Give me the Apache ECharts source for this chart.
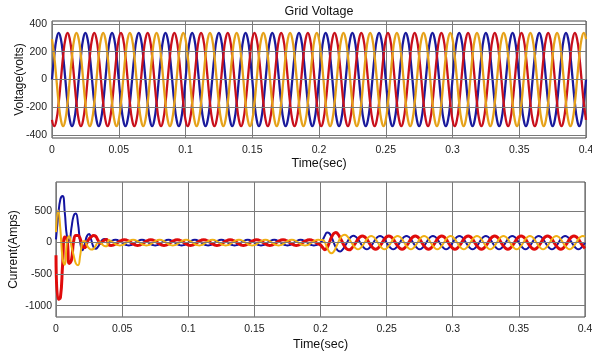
<!DOCTYPE html>
<html><head><meta charset="utf-8">
<script src="https://cdn.jsdelivr.net/npm/echarts@6/dist/echarts.min.js"></script>
<style>html,body{margin:0;padding:0;background:#fff;}#c{width:592px;height:353px;}</style>
</head><body><div id="c"></div>
<script>
// sample interval of all series (s)
const timeStep = 1 / 600;
const xTicks = [0, 0.05, 0.1, 0.15, 0.2, 0.25, 0.3, 0.35, 0.4];
const voltTicks = [-400, -200, 0, 200, 400];
const currTicks = [-1000, -500, 0, 500];

const voltA = [
0,168,290,335,290,168,0,-168,-290,-335,-290,-168,
0,168,290,335,290,168,0,-168,-290,-335,-290,-168,
0,168,290,335,290,168,0,-168,-290,-335,-290,-168,
0,168,290,335,290,168,0,-168,-290,-335,-290,-168,
0,168,290,335,290,168,0,-168,-290,-335,-290,-168,
0,168,290,335,290,168,0,-168,-290,-335,-290,-168,
0,168,290,335,290,168,0,-168,-290,-335,-290,-168,
0,168,290,335,290,168,0,-168,-290,-335,-290,-168,
0,168,290,335,290,168,0,-168,-290,-335,-290,-168,
0,168,290,335,290,168,0,-168,-290,-335,-290,-168,
0,168,290,335,290,168,0,-168,-290,-335,-290,-168,
0,168,290,335,290,168,0,-168,-290,-335,-290,-168,
0,168,290,335,290,168,0,-168,-290,-335,-290,-168,
0,168,290,335,290,168,0,-168,-290,-335,-290,-168,
0,168,290,335,290,168,0,-168,-290,-335,-290,-168,
0,168,290,335,290,168,0,-168,-290,-335,-290,-168,
0,168,290,335,290,168,0,-168,-290,-335,-290,-168,
0,168,290,335,290,168,0,-168,-290,-335,-290,-168,
0,168,290,335,290,168,0,-168,-290,-335,-290,-168,
0,168,290,335,290,168,0,-168,-290,-335,-290,-168,
0];
const voltB = [
-290,-335,-290,-168,0,168,290,335,290,168,0,-168,
-290,-335,-290,-168,0,168,290,335,290,168,0,-168,
-290,-335,-290,-168,0,168,290,335,290,168,0,-168,
-290,-335,-290,-168,0,168,290,335,290,168,0,-168,
-290,-335,-290,-168,0,168,290,335,290,168,0,-168,
-290,-335,-290,-168,0,168,290,335,290,168,0,-168,
-290,-335,-290,-168,0,168,290,335,290,168,0,-168,
-290,-335,-290,-168,0,168,290,335,290,168,0,-168,
-290,-335,-290,-168,0,168,290,335,290,168,0,-168,
-290,-335,-290,-168,0,168,290,335,290,168,0,-168,
-290,-335,-290,-168,0,168,290,335,290,168,0,-168,
-290,-335,-290,-168,0,168,290,335,290,168,0,-168,
-290,-335,-290,-168,0,168,290,335,290,168,0,-168,
-290,-335,-290,-168,0,168,290,335,290,168,0,-168,
-290,-335,-290,-168,0,168,290,335,290,168,0,-168,
-290,-335,-290,-168,0,168,290,335,290,168,0,-168,
-290,-335,-290,-168,0,168,290,335,290,168,0,-168,
-290,-335,-290,-168,0,168,290,335,290,168,0,-168,
-290,-335,-290,-168,0,168,290,335,290,168,0,-168,
-290,-335,-290,-168,0,168,290,335,290,168,0,-168,
-290];
const voltC = [
290,168,0,-168,-290,-335,-290,-168,0,168,290,335,
290,168,0,-168,-290,-335,-290,-168,0,168,290,335,
290,168,0,-168,-290,-335,-290,-168,0,168,290,335,
290,168,0,-168,-290,-335,-290,-168,0,168,290,335,
290,168,0,-168,-290,-335,-290,-168,0,168,290,335,
290,168,0,-168,-290,-335,-290,-168,0,168,290,335,
290,168,0,-168,-290,-335,-290,-168,0,168,290,335,
290,168,0,-168,-290,-335,-290,-168,0,168,290,335,
290,168,0,-168,-290,-335,-290,-168,0,168,290,335,
290,168,0,-168,-290,-335,-290,-168,0,168,290,335,
290,168,0,-168,-290,-335,-290,-168,0,168,290,335,
290,168,0,-168,-290,-335,-290,-168,0,168,290,335,
290,168,0,-168,-290,-335,-290,-168,0,168,290,335,
290,168,0,-168,-290,-335,-290,-168,0,168,290,335,
290,168,0,-168,-290,-335,-290,-168,0,168,290,335,
290,168,0,-168,-290,-335,-290,-168,0,168,290,335,
290,168,0,-168,-290,-335,-290,-168,0,168,290,335,
290,168,0,-168,-290,-335,-290,-168,0,168,290,335,
290,168,0,-168,-290,-335,-290,-168,0,168,290,335,
290,168,0,-168,-290,-335,-290,-168,0,168,290,335,
290];

const currA = [
50,420,690,740,470,90,30,230,420,460,300,0,
-120,-30,100,135,40,-70,-100,-70,-10,40,58,50,
0,23,39,45,39,23,0,-23,-39,-45,-39,-23,
0,23,39,45,39,23,0,-23,-39,-45,-39,-23,
0,23,39,45,39,23,0,-23,-39,-45,-39,-23,
0,23,39,45,39,23,0,-23,-39,-45,-39,-23,
0,23,39,45,39,23,0,-23,-39,-45,-39,-23,
0,23,39,45,39,23,0,-23,-39,-45,-39,-23,
0,23,39,45,39,23,0,-23,-39,-45,-39,-23,
0,23,39,45,39,23,0,-23,-39,-45,-39,-23,
0,40,113,160,147,85,0,-80,-130,-140,-113,-63,
0,58,95,108,91,53,0,-53,-91,-105,-91,-53,
0,53,91,105,91,53,0,-53,-91,-105,-91,-53,
0,53,91,105,91,53,0,-53,-91,-105,-91,-53,
0,53,91,105,91,53,0,-53,-91,-105,-91,-53,
0,53,91,105,91,53,0,-53,-91,-105,-91,-53,
0,53,91,105,91,53,0,-53,-91,-105,-91,-53,
0,53,91,105,91,53,0,-53,-91,-105,-91,-53,
0,53,91,105,91,53,0,-53,-91,-105,-91,-53,
0,53,91,105,91,53,0,-53,-91,-105,-91,-53,
0];
const currB = [
-200,-900,-870,-350,90,50,-330,-280,20,110,110,60,
-60,-80,-10,60,90,110,100,40,-10,10,40,50,
-39,-45,-39,-23,0,23,39,45,39,23,0,-23,
-39,-45,-39,-23,0,23,39,45,39,23,0,-23,
-39,-45,-39,-23,0,23,39,45,39,23,0,-23,
-39,-45,-39,-23,0,23,39,45,39,23,0,-23,
-39,-45,-39,-23,0,23,39,45,39,23,0,-23,
-39,-45,-39,-23,0,23,39,45,39,23,0,-23,
-39,-45,-39,-23,0,23,39,45,39,23,0,-23,
-39,-45,-39,-23,0,23,39,45,39,23,0,-23,
-39,-80,-113,-80,0,85,143,160,130,70,0,-63,
-104,-115,-95,-54,0,53,91,105,91,53,0,-53,
-91,-105,-91,-53,0,53,91,105,91,53,0,-53,
-91,-105,-91,-53,0,53,91,105,91,53,0,-53,
-91,-105,-91,-53,0,53,91,105,91,53,0,-53,
-91,-105,-91,-53,0,53,91,105,91,53,0,-53,
-91,-105,-91,-53,0,53,91,105,91,53,0,-53,
-91,-105,-91,-53,0,53,91,105,91,53,0,-53,
-91,-105,-91,-53,0,53,91,105,91,53,0,-53,
-91,-105,-91,-53,0,53,91,105,91,53,0,-53,
-91];
const currC = [
165,510,200,-250,-350,20,100,-60,-200,-330,-360,-200,
10,25,-40,-90,-110,-100,-50,0,5,-30,-55,-60,
39,23,0,-23,-39,-45,-39,-23,0,23,39,45,
39,23,0,-23,-39,-45,-39,-23,0,23,39,45,
39,23,0,-23,-39,-45,-39,-23,0,23,39,45,
39,23,0,-23,-39,-45,-39,-23,0,23,39,45,
39,23,0,-23,-39,-45,-39,-23,0,23,39,45,
39,23,0,-23,-39,-45,-39,-23,0,23,39,45,
39,23,0,-23,-39,-45,-39,-23,0,23,39,45,
39,23,0,-23,-39,-45,-39,-23,0,23,39,45,
39,40,0,-80,-147,-170,-143,-80,0,70,113,125,
104,58,0,-54,-91,-105,-91,-53,0,53,91,105,
91,53,0,-53,-91,-105,-91,-53,0,53,91,105,
91,53,0,-53,-91,-105,-91,-53,0,53,91,105,
91,53,0,-53,-91,-105,-91,-53,0,53,91,105,
91,53,0,-53,-91,-105,-91,-53,0,53,91,105,
91,53,0,-53,-91,-105,-91,-53,0,53,91,105,
91,53,0,-53,-91,-105,-91,-53,0,53,91,105,
91,53,0,-53,-91,-105,-91,-53,0,53,91,105,
91,53,0,-53,-91,-105,-91,-53,0,53,91,105,
91];

const FONT = 'Liberation Sans, Arial, sans-serif';
function pairs(arr) { return arr.map((v, i) => [i * timeStep, v]); }
function xFmt(v) { return String(+v.toFixed(2)); }

const chart = echarts.init(document.getElementById('c'), null, {renderer: 'canvas'});

function xAxisCfg(idx, gap, margin) {
  return {
    type: 'value', gridIndex: idx, min: 0, max: 0.4, interval: 0.05,
    name: 'Time(sec)', nameLocation: 'middle', nameGap: gap, nameMoveOverlap: false,
    nameTextStyle: {fontFamily: FONT, fontSize: 12.5, color: '#111'},
    axisLine: {show: false}, axisTick: {show: false},
    axisLabel: {formatter: xFmt, fontFamily: FONT, fontSize: 10.5, color: '#222', margin: margin},
    splitLine: {show: true, lineStyle: {color: '#7a7a7a', width: 1}}
  };
}
function yAxisCfg(idx, name, gap, mn, mx, ticks, margin) {
  return {
    type: 'value', gridIndex: idx, min: mn, max: mx, interval: 20,
    name: name, nameLocation: 'middle', nameGap: gap, nameMoveOverlap: false,
    nameTextStyle: {fontFamily: FONT, fontSize: 12, color: '#111'},
    axisLine: {show: false}, axisTick: {show: false},
    axisLabel: {formatter: v => (ticks.indexOf(v) >= 0 ? String(v) : ''),
      fontFamily: FONT, fontSize: 10.5, color: '#222', margin: margin},
    splitLine: {show: false}
  };
}
function gridLines(idx, ticks) {
  return {
    type: 'line', xAxisIndex: idx, yAxisIndex: idx, data: [], z: 1, silent: true,
    markLine: {silent: true, symbol: ['none', 'none'], animation: false,
      label: {show: false}, lineStyle: {color: '#7a7a7a', width: 1, type: 'solid'},
      data: ticks.map(v => ({yAxis: v}))}
  };
}
function lineSeries(idx, arr, color, w) {
  return {type: 'line', xAxisIndex: idx, yAxisIndex: idx, data: pairs(arr), smooth: true,
    showSymbol: false, symbol: 'none', lineStyle: {color: color, width: w}, itemStyle: {color: color}, z: 3};
}

chart.setOption({
  animation: false,
  backgroundColor: '#fff',
  title: {text: 'Grid Voltage', left: 319, top: 5, textAlign: 'center', padding: 0,
    textStyle: {fontFamily: FONT, fontSize: 12.5, fontWeight: 'normal', color: '#111'}},
  grid: [
    {left: 52, right: 6, top: 21, bottom: 215, show: true, borderColor: '#444', borderWidth: 1,
     containLabel: false, outerBoundsMode: 'none'},
    {left: 56, right: 7, top: 182, bottom: 36, show: true, borderColor: '#444', borderWidth: 1,
     containLabel: false, outerBoundsMode: 'none'}
  ],
  xAxis: [xAxisCfg(0, 19, 7), xAxisCfg(1, 21, 7)],
  yAxis: [
    yAxisCfg(0, 'Voltage(volts)', 26, -420, 420, voltTicks, 5),
    yAxisCfg(1, 'Current(Amps)', 36, -1180, 960, currTicks, 4)
  ],
  series: [
    gridLines(0, voltTicks),
    gridLines(1, currTicks),
    lineSeries(0, voltA, '#1a1a9c', 2.3),
    lineSeries(0, voltB, '#c8101c', 2.3),
    lineSeries(0, voltC, '#e6a21a', 2.3),
    lineSeries(1, currA, '#1414a0', 2),
    lineSeries(1, currB, '#e00b0b', 3),
    lineSeries(1, currC, '#f0b014', 2)
  ]
});
</script>
</body></html>
